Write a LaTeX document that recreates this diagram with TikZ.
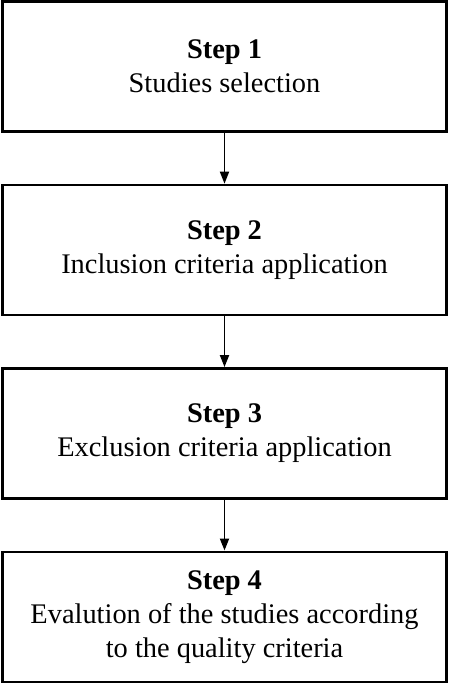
\documentclass[tikz,border=0pt]{standalone}
\usepackage{fontspec}
\setmainfont{Liberation Serif}
\usetikzlibrary{positioning,arrows.meta}

\begin{document}
\begin{tikzpicture}[x=1pt,y=1pt,
  stepbox/.style={draw=black, line width=2.4pt, rectangle, minimum width=444pt,
    minimum height=130pt, align=center, inner sep=0pt,
    font=\fontsize{28.4}{34}\selectfont},
  flow/.style={-{Triangle[length=12pt,width=9pt]}, line width=1.8pt},
  node distance=51pt]
\useasboundingbox (0,0) rectangle (449,-685);
\node[stepbox] (s1) at (224.5,-66.5) {\textbf{Step 1}\\Studies selection};
\node[stepbox, below=of s1] (s2) {\textbf{Step 2}\\Inclusion criteria application};
\node[stepbox, below=of s2] (s3) {\textbf{Step 3}\\Exclusion criteria application};
\node[stepbox, below=of s3] (s4) {\textbf{Step 4}\\Evalution of the studies according\\to the quality criteria};
\draw[flow] (s1) -- (s2);
\draw[flow] (s2) -- (s3);
\draw[flow] (s3) -- (s4);
\end{tikzpicture}
\end{document}
